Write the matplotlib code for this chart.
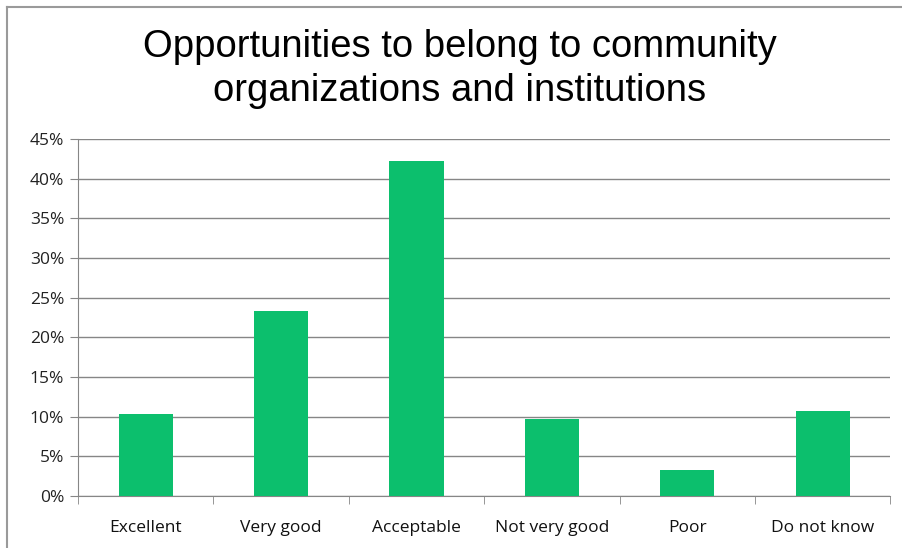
import numpy as np
import matplotlib.pyplot as plt
from matplotlib.lines import Line2D

categories = ["Excellent", "Very good", "Acceptable", "Not very good", "Poor", "Do not know"]
values = [10.3, 23.3, 42.2, 9.7, 3.3, 10.7]
yticks = [0, 5, 10, 15, 20, 25, 30, 35, 40, 45]

plt.rcParams['font.family'] = ['Open Sans', 'DejaVu Sans']

fig = plt.figure(figsize=(9.02, 5.48), dpi=100)
ax = fig.add_axes([0.0865, 0.095, 0.9005, 0.651])

x = np.arange(len(categories))
ax.bar(x, values, width=0.4, color="#0CBF6D", zorder=3)

ax.set_xlim(-0.5, len(categories) - 0.5)
ax.set_ylim(0, 45)
ax.set_yticks(yticks)
ax.set_yticklabels([f"{v}%" for v in yticks], fontsize=12.5, color="#222222")
ax.yaxis.grid(True, color="#868686", linewidth=1, zorder=0)

ax.set_xticks(x)
ax.set_xticklabels(categories, fontsize=12.5, color="#111111")
ax.tick_params(axis="x", length=0, pad=17)
ax.set_xticks(np.arange(len(categories) + 1) - 0.5, minor=True)
ax.tick_params(axis="x", which="minor", length=6, color="#868686")
ax.tick_params(axis="y", length=6, color="#868686", pad=4)

for s in ["top", "right"]:
    ax.spines[s].set_visible(False)
ax.spines["left"].set_color("#868686")
ax.spines["bottom"].set_color("#868686")

fig.text(0.51, 0.874, "Opportunities to belong to community\norganizations and institutions",
         ha="center", va="center", fontsize=27.5, family="Liberation Sans", linespacing=1.3)

# chart frame
fig.add_artist(Line2D([0.008, 1.0], [0.987, 0.987], color="#9a9a9a", lw=1.5))
fig.add_artist(Line2D([0.008, 0.008], [0.0, 0.987], color="#9a9a9a", lw=1.5))

fig.savefig("out.png", dpi=100)
